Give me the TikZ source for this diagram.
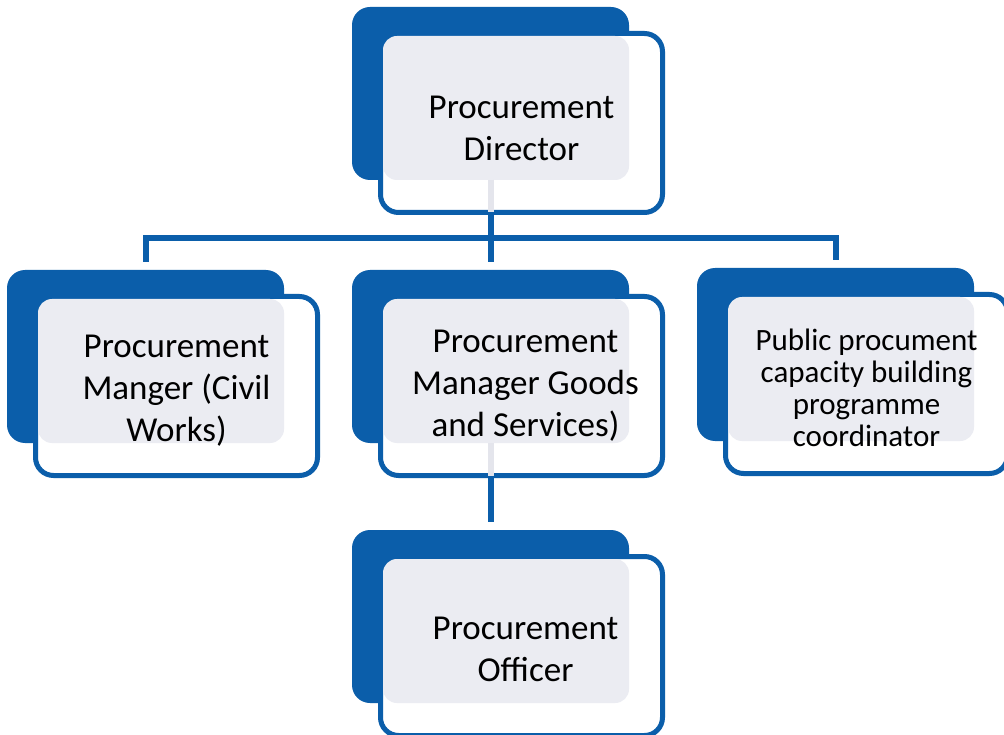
\documentclass[tikz,border=0pt]{standalone}
\usepackage{fontspec}
\setmainfont{Carlito}
\usepackage{xcolor}
\usetikzlibrary{positioning}
\definecolor{orgblue}{RGB}{11,94,170}
\definecolor{orggray}{RGB}{235,236,242}
\definecolor{orgfaint}{RGB}{228,229,236}

\begin{document}
\begin{tikzpicture}[x=1pt,y=-1pt,semithick]
		\tikzstyle{back}=[fill=orgblue,draw=none,rounded corners=18pt,minimum width=277pt,minimum height=173pt,inner sep=0pt,outer sep=0pt,anchor=north west]
		\tikzstyle{front}=[fill=white,draw=orgblue,line width=5pt,rounded corners=18pt,minimum width=282pt,minimum height=179pt,inner sep=0pt,outer sep=0pt]
		\tikzstyle{shade}=[fill=orggray,draw=none,rounded corners=14pt,minimum width=246pt,minimum height=144pt,inner sep=0pt,outer sep=0pt]
		\tikzstyle{txt}=[align=center,text=black,inner sep=0pt,font=\fontsize{35}{42}\selectfont]
		\tikzstyle{link}=[draw=orgblue,line width=6pt]
		\tikzstyle{faint}=[draw=orgfaint,line width=6pt]
		\useasboundingbox (0,0) rectangle (1004,735);
		% director
		\node[back]    (Ab) at (352,7)  {};
		\node[front]   (Af) [below right=26.5pt and 28.5pt of Ab.north west] {};
		\node[shade]   (Ag) [below right=29pt and 31pt of Ab.north west] {};
		\node[txt]     (A)  at ([yshift=-5pt]Af.center) {Procurement\\Director};
		% managers
		\node[back]    (Bb) at (7,270)  {};
		\node[front]   (Bf) [below right=26.5pt and 28.5pt of Bb.north west] {};
		\node[shade]   (Bg) [below right=29pt and 31pt of Bb.north west] {};
		\node[txt]     (B)  at ([yshift=-5pt]Bf.center) {Procurement\\Manger (Civil\\Works)};
		\node[back]    (Cb) at (352,270) {};
		\node[front]   (Cf) [below right=26.5pt and 28.5pt of Cb.north west] {};
		\node[shade]   (Cg) [below right=29pt and 31pt of Cb.north west] {};
		\node[txt]     (C)  at ([xshift=4pt]Cf.center) {Procurement\\Manager Goods\\and Services)};
		\node[back]    (Db) at (697,268) {};
		\node[front]   (Df) [below right=26.5pt and 28.5pt of Db.north west] {};
		\node[shade]   (Dg) [below right=29pt and 31pt of Db.north west] {};
		\node[txt,font=\fontsize{31}{32}\selectfont] (D) at ([yshift=-4pt]Df.center) {Public procument\\capacity building\\programme\\coordinator};
		% officer
		\node[back]    (Eb) at (352,530) {};
		\node[front]   (Ef) [below right=26.5pt and 28.5pt of Eb.north west] {};
		\node[shade]   (Eg) [below right=29pt and 31pt of Eb.north west] {};
		\node[txt]     (E)  at ([xshift=4pt,yshift=-3pt]Ef.center) {Procurement\\Officer};
		% connectors
		\draw[faint] (Ab.south) -- (Ab.south |- Af.south);
		\draw[link] (Ab.south |- Af.south) -- ++(0,25.5) coordinate (J);
		\draw[link] ([yshift=8pt]Bb.north) -- (Bb.north |- J) -- (Db.north |- J) -- ([yshift=8pt]Db.north);
		\draw[link] (Cb.north |- J) -- ([yshift=8pt]Cb.north);
		\draw[faint] (Cb.south) -- (Cb.south |- Cf.south);
		\draw[link] (Cb.south |- Cf.south) -- ([yshift=8pt]Eb.north);
	\end{tikzpicture}
\end{document}
